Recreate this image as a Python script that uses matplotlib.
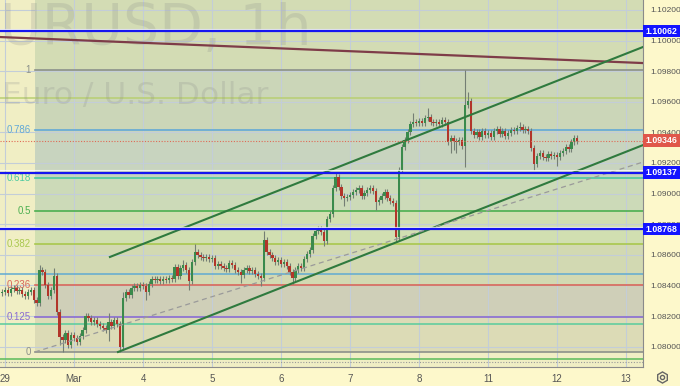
import numpy as np
import matplotlib
matplotlib.use("Agg")
import matplotlib.pyplot as plt
from matplotlib.patches import Rectangle
from matplotlib.lines import Line2D
from matplotlib.transforms import blended_transform_factory

# EURUSD 1h, bar 0 = 28 Feb 23:00, hours counted on trading days only
first_hour = -1
first_open = 1.08350
closes = [
    1.08357, 1.08370, 1.08350, 1.08376, 1.08383, 1.08363, 1.08370, 1.08344, 1.08331, 1.08357, 1.08370, 1.08305, 1.08285,
    1.08501, 1.08487, 1.08403, 1.08331, 1.08370, 1.08461, 1.08226, 1.08063, 1.08043, 1.08089, 1.08010, 1.08076,
    1.08056, 1.08030, 1.08070, 1.08108, 1.08200, 1.08187, 1.08161, 1.08174, 1.08148, 1.08135, 1.08122, 1.08108,
    1.08161, 1.08135, 1.08174, 1.08148, 1.07997, 1.08318, 1.08357, 1.08337, 1.08383, 1.08396, 1.08383, 1.08403,
    1.08396, 1.08357, 1.08409, 1.08442, 1.08435, 1.08442, 1.08429, 1.08442, 1.08435, 1.08448, 1.08442, 1.08520,
    1.08461, 1.08514, 1.08533, 1.08501, 1.08429, 1.08553, 1.08618, 1.08599, 1.08585, 1.08579, 1.08585, 1.08572,
    1.08579, 1.08527, 1.08540, 1.08527, 1.08514, 1.08507, 1.08546, 1.08533, 1.08501, 1.08487, 1.08468, 1.08501,
    1.08514, 1.08494, 1.08501, 1.08474, 1.08461, 1.08448, 1.08697, 1.08618, 1.08599, 1.08579, 1.08553, 1.08566,
    1.08540, 1.08553, 1.08527, 1.08487, 1.08448, 1.08501, 1.08527, 1.08514, 1.08572, 1.08605, 1.08631, 1.08723,
    1.08755, 1.08768, 1.08749, 1.08690, 1.08834, 1.08867, 1.09036, 1.09108, 1.09043, 1.08984, 1.08971, 1.08978,
    1.08991, 1.09010, 1.09023, 1.09036, 1.08984, 1.09004, 1.09023, 1.09036, 1.09017, 1.08945, 1.08958, 1.08984,
    1.09010, 1.08971, 1.08951, 1.08938, 1.08716, 1.09154, 1.09304, 1.09350, 1.09402, 1.09455, 1.09468, 1.09461,
    1.09474, 1.09461, 1.09494, 1.09500, 1.09468, 1.09461, 1.09468, 1.09455, 1.09481, 1.09468, 1.09337, 1.09363,
    1.09344, 1.09337, 1.09350, 1.09311, 1.09579, 1.09605, 1.09409, 1.09383, 1.09402, 1.09370, 1.09409, 1.09383,
    1.09396, 1.09370, 1.09409, 1.09422, 1.09389, 1.09409, 1.09376, 1.09396, 1.09415, 1.09409, 1.09429, 1.09435,
    1.09415, 1.09422, 1.09409, 1.09298, 1.09193, 1.09246, 1.09265, 1.09239, 1.09232, 1.09259, 1.09246, 1.09252,
    1.09239, 1.09265, 1.09278, 1.09304, 1.09291, 1.09337, 1.09363, 1.09346,
]
# wick lengths in pips above / below the body
upper_wick = [
    2, 2, 2, 2, 2, 2, 2, 2, 2, 2, 2, 2, 2, 3, 2, 2, 2, 2, 5, 2, 2, 2, 2, 2, 2,
    2, 2, 2, 2, 2, 2, 2, 2, 2, 2, 2, 2, 6, 2, 2, 2, 2, 4, 2, 2, 2, 2, 2, 2,
    2, 2, 2, 2, 2, 2, 2, 2, 2, 2, 2, 2, 2, 2, 3, 2, 2, 2, 5, 2, 2, 2, 2, 2,
    2, 2, 2, 2, 2, 2, 2, 2, 2, 2, 2, 2, 2, 2, 2, 2, 2, 2, 6, 2, 2, 2, 2, 2,
    2, 2, 2, 2, 2, 2, 2, 2, 2, 2, 2, 2, 2, 2, 2, 2, 2, 2, 2, 3, 2, 2, 2, 2,
    2, 2, 2, 2, 2, 2, 2, 2, 2, 2, 2, 2, 2, 2, 2, 2, 2, 2, 2, 2, 2, 2, 6, 2,
    2, 2, 2, 6, 2, 2, 2, 2, 2, 2, 2, 2, 2, 2, 2, 2, 23, 6, 2, 2, 2, 2, 2, 2,
    2, 2, 2, 2, 2, 2, 2, 2, 2, 2, 2, 3, 2, 2, 2, 2, 2, 2, 2, 2, 2, 2, 2, 2,
    2, 2, 2, 2, 2, 2, 2, 2,
]
lower_wick = [
    2, 2, 2, 2, 2, 2, 2, 2, 2, 2, 2, 2, 2, 2, 2, 2, 2, 2, 2, 2, 5, 8, 2, 2, 2,
    2, 2, 2, 2, 2, 2, 2, 2, 2, 2, 2, 2, 7, 2, 2, 2, 3, 2, 2, 2, 2, 2, 2, 2,
    2, 5, 2, 2, 2, 2, 2, 2, 2, 2, 2, 2, 2, 2, 2, 2, 6, 2, 2, 2, 2, 2, 2, 2,
    2, 2, 2, 2, 2, 2, 2, 2, 2, 2, 5, 2, 2, 2, 2, 2, 2, 5, 2, 2, 2, 2, 2, 2,
    2, 2, 2, 2, 4, 2, 2, 2, 2, 2, 2, 2, 2, 2, 2, 3, 2, 2, 2, 2, 2, 2, 5, 2,
    2, 2, 2, 2, 2, 2, 2, 2, 2, 5, 2, 2, 2, 2, 2, 2, 3, 2, 2, 2, 2, 2, 2, 2,
    2, 2, 2, 2, 2, 2, 2, 2, 2, 2, 2, 7, 6, 7, 2, 2, 14, 2, 2, 2, 2, 2, 2, 2,
    2, 2, 2, 2, 2, 2, 2, 2, 2, 2, 2, 2, 2, 2, 2, 2, 4, 2, 2, 2, 2, 2, 2, 2,
    6, 2, 2, 2, 2, 2, 2, 2,
]
pip = 0.0001

day_labels = ["29", "Mar", "4", "5", "6", "7", "8", "11", "12", "13"]
price_ticks = [1.080, 1.082, 1.084, 1.086, 1.088, 1.090, 1.092, 1.094, 1.096, 1.098, 1.100, 1.102]

# fibonacci retracement
fib_low, fib_high = 1.07965, 1.09808
fib_start = 10.4
fib_levels = [0, 0.125, 0.236, 0.382, 0.5, 0.618, 0.786, 1]
fib_labels = ["0", "0.125", "0.236", "0.382", "0.5", "0.618", "0.786", "1"]
fib_line_colors = ["#8c918a", "#8a6cd0", "#d9675a", "#a9c84e", "#4caf50", "#4ccaa0", "#62a9d6", "#8c918a"]
fib_fill_colors = ["#dcdbb6", "#cfcfb8", "#d2d9b2", "#d1dfb1", "#ccdab8", "#c8d4bf", "#cbd6b8", "#d3dcb4"]

# horizontal lines
blue_levels = [1.10062, 1.09137, 1.08768]
other_levels = [1.09625, 1.08474, 1.08148, 1.07919]
other_colors = ["#b8cf72", "#60abd2", "#58cc9c", "#5abb5a"]
last_price = 1.09346

# trend lines (hour, price)
resist_line = [(-1.74, 1.10023), (221.9, 1.09853)]
channel_top = [(36.5, 1.08586), (221.9, 1.09958)]
channel_bottom = [(39.3, 1.07965), (221.9, 1.09317)]
fib_trend = [(10.4, 1.07965), (221.9, 1.09206)]

x_left, x_right = -1.74, 221.9
y_bottom, y_top = 1.07867, 1.10265

small_font = "Liberation Sans"
bg_color = "#f0eec4"
fig = plt.figure(figsize=(6.8, 3.86), dpi=100, facecolor="#fdf8cb")
ax = fig.add_axes([0, 19 / 386, 643 / 680, 367 / 386])
ax.set_facecolor(bg_color)
ax.set_xlim(x_left, x_right)
ax.set_ylim(y_bottom, y_top)

# fib zones
fib_prices = [fib_low + lv * (fib_high - fib_low) for lv in fib_levels]
zone_edges = fib_prices + [y_top + 0.001]
for i in range(len(fib_prices)):
    ax.fill_between([fib_start, x_right + 1], zone_edges[i], zone_edges[i + 1],
                    color=fib_fill_colors[i], lw=0, zorder=0.5)

# grid
day_pos = np.arange(len(day_labels)) * 24
for xp in day_pos:
    ax.axvline(xp, color="#c3cdd8", lw=0.8, zorder=0.8)
for yp in price_ticks:
    ax.axhline(yp, color="#c3cdd8", lw=0.8, zorder=0.8)

for p, c, lab in zip(fib_prices, fib_line_colors, fib_labels):
    ax.plot([fib_start, x_right], [p, p], color=c, lw=1.2, zorder=1)
    ax.text(8.9, p, lab, color=c, fontsize=7, family=small_font, ha="right", va="center", zorder=3)

for p, c in zip(other_levels, other_colors):
    ax.axhline(p, color=c, lw=1.1, zorder=1)
ax.axhline(1.07899, color="#999999", lw=0.8, ls=(0, (1, 1.5)), zorder=1)

# watermark
ax.text(312 / 643, 1 - 45 / 367, "EURUSD, 1h", transform=ax.transAxes, fontsize=41,
        color="#8a8a8a", alpha=0.22, ha="right", va="baseline", zorder=1.2, clip_on=True)
ax.text(2 / 643, 1 - 104 / 367, "Euro / U.S. Dollar", transform=ax.transAxes, fontsize=22.5,
        color="#8a8a8a", alpha=0.22, ha="left", va="baseline", zorder=1.2, clip_on=True)

# candles
closes = np.array(closes)
hours = np.arange(len(closes)) + first_hour
opens = np.r_[first_open, closes[:-1]]
highs = np.maximum(opens, closes) + np.array(upper_wick) * pip
lows = np.minimum(opens, closes) - np.array(lower_wick) * pip
rising = closes >= opens
ax.vlines(hours, lows, highs, color="#747e74", lw=0.8, zorder=4)
body = np.maximum(np.abs(closes - opens), 0.00004)
ax.bar(hours, body, bottom=np.minimum(opens, closes), width=0.8,
       color=np.where(rising, "#3a8a4c", "#b2352a"), lw=0, zorder=5)

# trend lines
for line, c, ls, lw in [(resist_line, "#7e3c48", "-", 1.6), (channel_top, "#2f7a3e", "-", 1.5),
                        (channel_bottom, "#2f7a3e", "-", 1.5), (fib_trend, "#9a9a9a", (0, (4, 3)), 0.9)]:
    xs, ys = zip(*line)
    ax.plot(xs, ys, color=c, ls=ls, lw=lw, zorder=6)

for p in blue_levels:
    ax.axhline(p + 0.00016, color="#ffffff", lw=0.8, alpha=0.8, zorder=6)
    ax.axhline(p, color="#1616f0", lw=1.6, zorder=7)
ax.axhline(last_price, color="#e06a55", lw=0.8, ls=(0, (1, 1.5)), zorder=6)

# axes styling
for s in ["top", "left"]:
    ax.spines[s].set_visible(False)
ax.spines["right"].set_color("#8a8a8a")
ax.spines["bottom"].set_color("#8a8a8a")
ax.yaxis.tick_right()
ax.set_yticks(price_ticks)
ax.set_yticklabels([f"{p:.5f}" for p in price_ticks], family=small_font)
ax.tick_params(axis="y", length=0, pad=5, labelsize=6, labelcolor="#555555")
ax.set_xticks(day_pos)
ax.set_xticklabels(day_labels, family=small_font)
ax.tick_params(axis="x", length=0, pad=5, labelsize=7, labelcolor="#555555")

# price tags on the right scale
trans = blended_transform_factory(ax.transAxes, ax.transData)
tag_h = 0.00082
for p, c in [(p, "#1414ff") for p in blue_levels] + [(last_price, "#e0574a")]:
    ax.add_patch(Rectangle((1.0, p - tag_h / 2), 37 / 643, tag_h, transform=trans,
                           facecolor=c, edgecolor="none", clip_on=False, zorder=10))
    ax.text(1 + 18.5 / 643, p, f"{p:.5f}", transform=trans, color="white", fontsize=6.3,
            family=small_font, fontweight="bold", ha="center", va="center", zorder=11, clip_on=False)

# settings icon
fig.add_artist(Line2D([662 / 680], [1 - 377 / 386], marker="h", markersize=8, mfc="none",
                      mec="#666666", mew=1.0, transform=fig.transFigure))
fig.add_artist(Line2D([662 / 680], [1 - 377 / 386], marker="o", markersize=3, mfc="none",
                      mec="#666666", mew=1.0, transform=fig.transFigure))

fig.savefig("out.png", dpi=100, facecolor=fig.get_facecolor())
